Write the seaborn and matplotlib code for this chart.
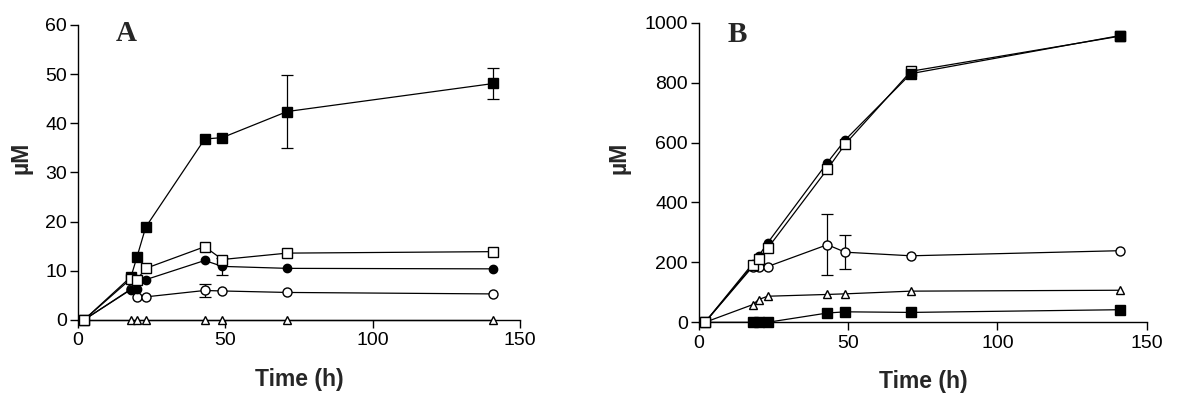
import numpy as np
import pandas as pd
import matplotlib
matplotlib.use("Agg")
import matplotlib.pyplot as plt
import seaborn as sns

# ---- data ----
time_h = [2, 18, 20, 23, 43, 49, 71, 141]

# Panel A
a_filled_sq = [0, 8.8, 12.8, 18.9, 36.8, 37.1, 42.4, 48.1]
a_filled_sq_err = [0, 0, 0, 0, 0, 0, 7.4, 3.1]
a_open_sq = [0, 8.4, 8.2, 10.5, 14.9, 12.3, 13.6, 13.9]
a_filled_ci = [0, 6.2, 6.4, 8.2, 12.1, 10.9, 10.5, 10.4]
a_filled_ci_err = [0, 0, 0, 0, 0, 1.7, 0, 0]
a_open_ci = [0, 6.3, 4.7, 4.7, 6.0, 5.9, 5.6, 5.3]
a_open_ci_err = [0, 0, 0, 0, 1.3, 0, 0, 0]
a_open_tri = [0, 0, 0, 0, 0, 0, 0, 0]

# Panel B
b_filled_ci = [0, 196, 222, 265, 533, 609, 830, 957]
b_open_sq = [0, 190, 210, 247, 511, 595, 838, 955]
b_top_sq_time = [71, 141]
b_top_sq = [828, 955]
b_open_ci = [0, 186, 186, 186, 259, 234, 222, 239]
b_open_ci_err = [0, 0, 0, 0, 101, 57, 0, 0]
b_open_tri = [0, 59, 76, 87, 93, 95, 104, 107]
b_filled_sq = [0, 0, 0, 0, 31, 35, 33, 42]

sns.set_style("ticks")
plt.rcParams['font.family'] = ['Liberation Sans', 'DejaVu Sans']

fig = plt.figure(figsize=(12, 4.07), dpi=100)
axA = fig.add_axes([0.0650, 0.2138, 0.3683, 0.7248])
axB = fig.add_axes([0.5825, 0.2081, 0.3731, 0.7361])

LW = 0.9


def series(ax, x, y, marker, filled, ms, err=None, z=3, line=True):
    df = pd.DataFrame({"t": x, "v": y})
    sns.lineplot(data=df, x="t", y="v", ax=ax, color="black",
                 marker=marker, markersize=ms,
                 markerfacecolor="black" if filled else "white",
                 markeredgecolor="black", markeredgewidth=1.0,
                 linewidth=LW if line else 0, clip_on=False, zorder=z,
                 estimator=None, sort=False)
    if err is not None:
        e = np.array(err, dtype=float)
        m = e > 0
        ax.errorbar(np.array(x)[m], np.array(y)[m], yerr=e[m], fmt="none",
                    ecolor="black", elinewidth=LW, capsize=4.5, capthick=LW,
                    zorder=z - 0.5, clip_on=False)


# Panel A
series(axA, time_h, a_open_tri, "^", False, 6, z=3)
series(axA, time_h, a_open_ci, "o", False, 6.5, err=a_open_ci_err, z=4)
series(axA, time_h, a_filled_ci, "o", True, 6, err=a_filled_ci_err, z=5)
series(axA, time_h, a_filled_sq, "s", True, 6.5, err=a_filled_sq_err, z=6)
series(axA, time_h, a_open_sq, "s", False, 7, z=7)

# Panel B
series(axB, time_h, b_filled_sq, "s", True, 6.5, z=3)
series(axB, time_h, b_open_tri, "^", False, 6, z=4)
series(axB, time_h, b_open_ci, "o", False, 6.5, err=b_open_ci_err, z=5)
series(axB, time_h, b_filled_ci, "o", True, 6, z=6)
series(axB, time_h, b_open_sq, "s", False, 6.5, z=7)
series(axB, b_top_sq_time, b_top_sq, "s", True, 7, z=8, line=False)

panels = [
    (axA, 60, 10, "A", 16.3, 58.2, (-0.102, 0.549), (0.5, -0.163)),
    (axB, 1000, 200, "B", 12.9, 959, (-0.154, 0.548), (0.5, -0.159)),
]
for ax, ymax, ystep, lab, lx, ly, ylc, xlc in panels:
    ax.set_xlim(0, 150)
    ax.set_ylim(0, ymax)
    ax.set_xticks([0, 50, 100, 150])
    ax.set_yticks(np.arange(0, ymax + 1, ystep))
    sns.despine(ax=ax)
    ax.tick_params(axis="both", direction="out", length=6, width=1,
                   labelsize=14, colors="black")
    ax.tick_params(axis="x", pad=3)
    ax.tick_params(axis="y", pad=2)
    for s in ["left", "bottom"]:
        ax.spines[s].set_linewidth(1.0)
        ax.spines[s].set_color("black")
    ax.set_xlabel("Time (h)", fontsize=16.5, fontweight="bold")
    ax.set_ylabel("\u00b5M", fontsize=16.5, fontweight="bold")
    ax.yaxis.set_label_coords(*ylc)
    ax.xaxis.set_label_coords(*xlc)
    ax.text(lx, ly, lab, fontsize=21, fontweight="bold",
            family="Liberation Serif", ha="center", va="center")

fig.savefig("out.png", dpi=100)
